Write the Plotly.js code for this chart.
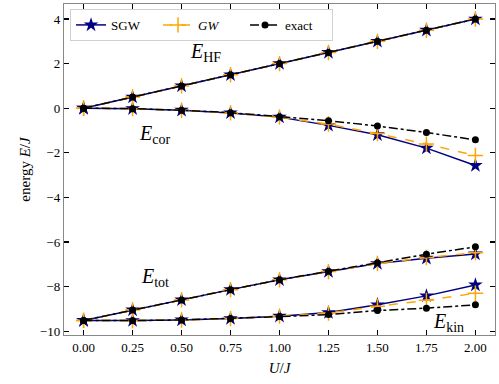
<!DOCTYPE html>
<html>
<head>
<meta charset="utf-8">
<script src="https://cdn.plot.ly/plotly-3.0.1.min.js"></script>
<style>
  body { margin: 0; background: #fff; }
  #plot { width: 499px; height: 384px; }
</style>
</head>
<body>
<div id="plot"></div>
<script>
// interaction strength U/J
const U = [0, 0.25, 0.5, 0.75, 1.0, 1.25, 1.5, 1.75, 2.0];

// Hartree-Fock energy (same for all methods)
const hf_sgw = [0, 0.5, 1.0, 1.5, 2.0, 2.5, 3.0, 3.5, 4.0];
const hf_gw = [0, 0.5, 1.0, 1.5, 2.0, 2.5, 3.0, 3.5, 4.0];
const hf_exact = [0, 0.5, 1.0, 1.5, 2.0, 2.5, 3.0, 3.5, 4.0];

// correlation energy
const cor_sgw = [0, -0.02, -0.09, -0.21, -0.40, -0.77, -1.19, -1.79, -2.57];
const cor_gw = [0, -0.02, -0.09, -0.21, -0.40, -0.71, -1.14, -1.61, -2.12];
const cor_exact = [0, -0.02, -0.09, -0.20, -0.38, -0.56, -0.80, -1.09, -1.42];

// total energy
const tot_sgw = [-9.52, -9.05, -8.60, -8.14, -7.70, -7.33, -6.97, -6.73, -6.54];
const tot_gw = [-9.52, -9.05, -8.60, -8.14, -7.70, -7.33, -6.96, -6.70, -6.48];
const tot_exact = [-9.52, -9.05, -8.60, -8.14, -7.70, -7.31, -6.93, -6.55, -6.22];

// kinetic energy
const kin_sgw = [-9.52, -9.53, -9.50, -9.44, -9.33, -9.17, -8.82, -8.42, -7.93];
const kin_gw = [-9.52, -9.53, -9.50, -9.44, -9.33, -9.19, -8.89, -8.62, -8.30];
const kin_exact = [-9.52, -9.53, -9.50, -9.44, -9.35, -9.26, -9.08, -8.97, -8.82];

const fnt = "Liberation Serif, DejaVu Serif, serif";

function series(ys, name, style, show) {
  return {
    x: U, y: ys, type: "scatter", mode: "lines+markers",
    name: name, legendgroup: name, showlegend: show,
    line: style.line, marker: style.marker
  };
}

const sgwStyle = {
  line: { color: "#000080", width: 1.5 },
  marker: { symbol: "star", size: 11, color: "#000080" }
};
const gwStyle = {
  line: { color: "#FFA500", width: 1.5, dash: "dash" },
  marker: { symbol: "cross-thin", size: 11, line: { color: "#FFA500", width: 1.5 } }
};
const exStyle = {
  line: { color: "#000000", width: 1.5, dash: "dashdot" },
  marker: { symbol: "circle", size: 7, color: "#000000" }
};

const data = [
  series(hf_sgw, "SGW", sgwStyle, true),
  series(cor_sgw, "SGW", sgwStyle, false),
  series(tot_sgw, "SGW", sgwStyle, false),
  series(kin_sgw, "SGW", sgwStyle, false),
  series(hf_gw, "<i>GW</i>", gwStyle, true),
  series(cor_gw, "<i>GW</i>", gwStyle, false),
  series(tot_gw, "<i>GW</i>", gwStyle, false),
  series(kin_gw, "<i>GW</i>", gwStyle, false),
  series(hf_exact, "exact", exStyle, true),
  series(cor_exact, "exact", exStyle, false),
  series(tot_exact, "exact", exStyle, false),
  series(kin_exact, "exact", exStyle, false)
];

function label(x, y, txt) {
  return {
    x: x, y: y, xref: "x", yref: "y", text: txt, showarrow: false,
    font: { family: fnt, size: 20, color: "#000" }
  };
}

const layout = {
  width: 499, height: 384,
  margin: { l: 64, r: 4, t: 4, b: 49 },
  paper_bgcolor: "#fff", plot_bgcolor: "#fff",
  font: { family: fnt, size: 13, color: "#000" },
  showlegend: true,
  legend: {
    orientation: "h", x: 0.014, y: 0.985, xanchor: "left", yanchor: "top",
    bgcolor: "#ffffff", bordercolor: "#d0d0d0", borderwidth: 1,
    entrywidth: 42, entrywidthmode: "pixels",
    font: { family: fnt, size: 13 }, traceorder: "normal"
  },
  xaxis: {
    range: [-0.1, 2.1],
    tickvals: [0, 0.25, 0.5, 0.75, 1.0, 1.25, 1.5, 1.75, 2.0],
    ticktext: ["0.00", "0.25", "0.50", "0.75", "1.00", "1.25", "1.50", "1.75", "2.00"],
    ticks: "inside", ticklen: 5, tickwidth: 1.2, tickcolor: "#000",
    showline: true, linecolor: "#888", linewidth: 1.2, mirror: "allticks",
    showgrid: false, zeroline: false,
    title: { text: "<i>U</i>/<i>J</i>", font: { family: fnt, size: 15 }, standoff: 8 }
  },
  yaxis: {
    range: [-10.175, 4.675],
    tickvals: [4, 2, 0, -2, -4, -6, -8, -10],
    ticktext: ["4", "2", "0", "\u22122", "\u22124", "\u22126", "\u22128", "\u221210"],
    ticks: "inside", ticklen: 5, tickwidth: 1.2, tickcolor: "#000",
    showline: true, linecolor: "#888", linewidth: 1.2, mirror: "allticks",
    showgrid: false, zeroline: false,
    title: { text: "energy <i>E</i>/<i>J</i>", font: { family: fnt, size: 15 }, standoff: 5 }
  },
  annotations: [
    label(0.62, 2.5, "<i>E</i><sub>HF</sub>"),
    label(0.36, -1.2, "<i>E</i><sub>cor</sub>"),
    label(0.365, -7.6, "<i>E</i><sub>tot</sub>"),
    label(1.865, -9.6, "<i>E</i><sub>kin</sub>")
  ]
};

Plotly.newPlot("plot", data, layout, { displayModeBar: false, staticPlot: true });
</script>
</body>
</html>
